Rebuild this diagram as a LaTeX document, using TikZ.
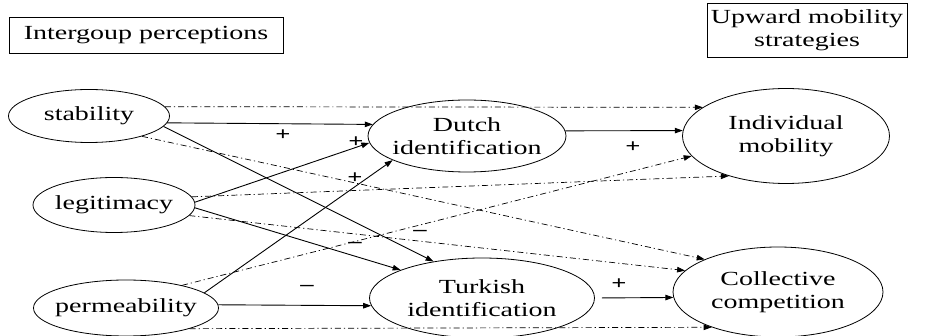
\documentclass[tikz,border=0pt]{standalone}
\usepackage{fontspec}
\setmainfont[FakeStretch=1.4]{Liberation Serif}
\usetikzlibrary{arrows.meta,shapes.geometric}

\begin{document}
\begin{tikzpicture}[x=1pt,y=-1pt,
  every node/.style={font=\fontsize{20}{23}\selectfont},
  oval/.style={draw,ellipse,inner ysep=0pt,inner xsep=-6pt,line width=0.8pt,align=center},
  titlebox/.style={draw,rectangle,inner sep=0pt,line width=0.8pt,align=center},
  pathsolid/.style={line width=0.9pt,-{Triangle[length=8pt,width=5.5pt]}},
  pathdash/.style={line width=0.7pt,dash pattern=on 6pt off 3pt on 1.2pt off 3pt,-{Triangle[length=8pt,width=5.5pt]}},
  sign/.style={font=\fontsize{19}{19}\selectfont\bfseries,inner sep=0pt}]
\useasboundingbox (0,0) rectangle (926,336);
% headers
\node[titlebox,minimum width=274pt,minimum height=36pt] (hdrleft) at (146,35) {Intergoup perceptions};
\node[titlebox,minimum width=200pt,minimum height=54pt] (hdrright) at (807,30) {Upward mobility\\strategies};
% perceptions
\node[oval,minimum width=161pt,minimum height=53pt] (stab) at (89,116) {stability};
\node[oval,minimum width=162pt,minimum height=55pt] (legit) at (114,205) {legitimacy};
\node[oval,minimum width=185pt,minimum height=56pt] (perm) at (126,308) {permeability};
% identification
\node[oval,minimum width=198pt,minimum height=72pt] (dutch) at (467,136) {Dutch\\identification};
\node[oval,minimum width=225pt,minimum height=80pt] (turk) at (482,298) {Turkish\\identification};
% strategies
\node[oval,minimum width=207pt,minimum height=95pt] (indiv) at (786,136) {Individual\\mobility};
\node[oval,minimum width=210pt,minimum height=90pt] (coll) at (778,292) {Collective\\competition};
% direct paths
\foreach \s/\sa/\t/\ta in {stab/7/indiv/161,stab/339/coll/156,legit/6/indiv/215,
  legit/352/coll/167,perm/22/indiv/192,perm/342/coll/208}
  \draw[pathdash] (\s.\sa) -- (\t.\ta);
% mediated paths
\foreach \s/\sa/\t/\ta in {stab/355/dutch/173,stab/352/turk/143,legit/2/dutch/184,
  legit/358/turk/161,perm/11/dutch/198,perm/2/turk/184,dutch/3/indiv/177}
  \draw[pathsolid] (\s.\sa) -- (\t.\ta);
\draw[pathsolid,shorten <=7pt] (turk.0) -- (coll.183);
% signs
\node[sign] (sgnA) at (283,135) {+};
\node[sign] (sgnB) at (356,142) {+};
\node[sign] (sgnC) at (355,178) {+};
\node[sign] (sgnD) at (420,233) {--};
\node[sign] (sgnE) at (355,245) {--};
\node[sign] (sgnF) at (307,288) {--};
\node[sign] (sgnG) at (633,147) {+};
\node[sign] (sgnH) at (619,284) {+};
\end{tikzpicture}
\end{document}
